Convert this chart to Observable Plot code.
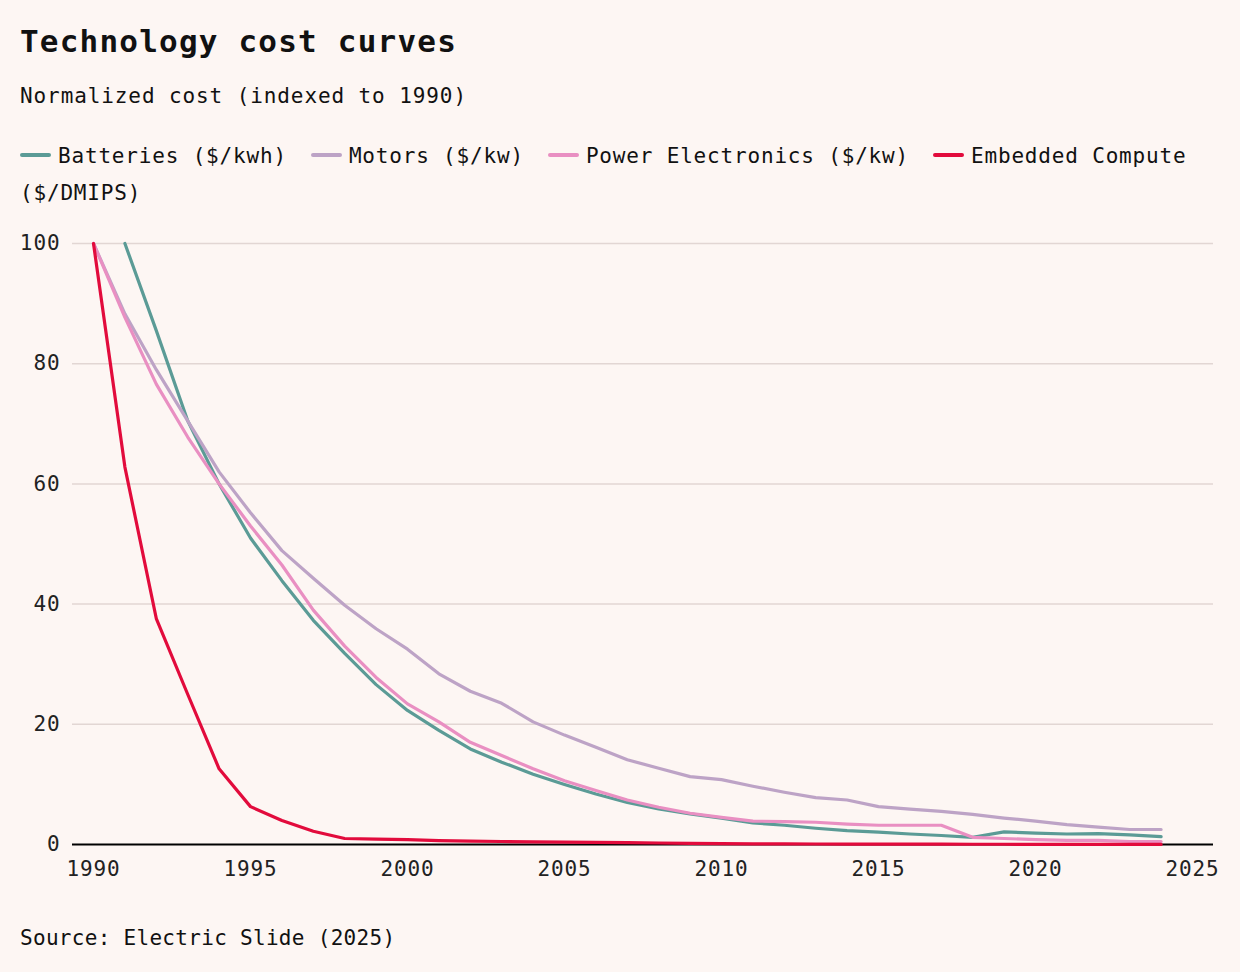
<!DOCTYPE html>
<html>
<head>
<meta charset="utf-8">
<script src="https://cdn.jsdelivr.net/npm/d3@7"></script>
<script src="https://cdn.jsdelivr.net/npm/@observablehq/plot@0.6"></script>
<style>
  html, body { margin: 0; padding: 0; background: #fdf6f3; }
  body { width: 1240px; height: 972px; overflow: hidden; font-family: "DejaVu Sans Mono", monospace; color: #111; }
  #title { position: absolute; left: 20px; top: 22px; font-size: 31px; font-weight: bold; letter-spacing: 1.2px; line-height: 38px; margin: 0; }
  #subtitle { position: absolute; left: 20px; top: 82px; font-size: 21px; letter-spacing: 0.9px; line-height: 28px; }
  #legend { position: absolute; left: 20px; top: 138px; width: 1200px; font-size: 21px; letter-spacing: 0.82px; line-height: 37px; }
  .sw { display: inline-block; width: 31px; height: 4px; border-radius: 2px; vertical-align: middle; margin-right: 7px; position: relative; top: -2px; }
  .w { display: inline-block; margin-right: 13.46px; }
  .w.last { margin-right: 24px; }
  #chart { position: absolute; left: 0; top: 220px; }
  #source { position: absolute; left: 20px; top: 924px; font-size: 21px; letter-spacing: 0.3px; line-height: 28px; }
</style>
</head>
<body>
<div id="title">Technology cost curves</div>
<div id="subtitle">Normalized cost (indexed to 1990)</div>
<div id="legend"></div>
<div id="chart"></div>
<div id="source">Source: Electric Slide (2025)</div>
<script>
const years = d3.range(1990, 2025);
const seriesNames = ["Batteries ($/kwh)", "Motors ($/kw)", "Power Electronics ($/kw)", "Embedded Compute ($/DMIPS)"];
const seriesColors = ["#5b9b96", "#bda3c6", "#e98fc2", "#e20b3c"];
const batteries = [null,100,85.5,70.5,60,51,43.9,37.3,31.8,26.6,22.3,19,15.9,13.7,11.7,10,8.4,7,5.9,5.1,4.4,3.6,3.2,2.7,2.3,2.05,1.75,1.5,1.2,2.1,1.9,1.75,1.8,1.6,1.3];
const motors = [100,88.3,79,70.5,62,55.2,48.9,44.3,39.8,35.9,32.5,28.4,25.5,23.5,20.4,18.2,16.2,14.1,12.7,11.3,10.8,9.7,8.7,7.8,7.4,6.3,5.9,5.5,5.0,4.4,3.9,3.3,2.9,2.5,2.5];
const power = [100,87.7,76.6,67.8,60,53,46.5,39,33,27.8,23.4,20.4,17,14.8,12.6,10.6,9.0,7.4,6.2,5.2,4.5,3.9,3.8,3.7,3.4,3.2,3.2,3.2,1.2,1.0,0.8,0.7,0.7,0.5,0.5];
const compute = [100,62.8,37.6,25,12.6,6.3,4.0,2.2,1.0,0.9,0.8,0.65,0.55,0.5,0.45,0.4,0.35,0.3,0.25,0.2,0.15,0.12,0.1,0.08,0.07,0.06,0.05,0.05,0.04,0.04,0.03,0.03,0.03,0.02,0.02];
const yTicks = [0, 20, 40, 60, 80, 100];
const xTicks = [1990, 1995, 2000, 2005, 2010, 2015, 2020, 2025];

const allSeries = [batteries, motors, power, compute];
const rows = [];
allSeries.forEach((vals, si) => {
  vals.forEach((v, i) => { if (v != null) rows.push({year: years[i], value: v, series: seriesNames[si]}); });
});

// legend: words as separate inline blocks so a label can wrap without one huge box
const legend = document.getElementById("legend");
seriesNames.forEach((n, i) => {
  const sw = document.createElement("span");
  sw.className = "sw";
  sw.style.background = seriesColors[i];
  legend.appendChild(sw);
  const words = n.split(" ");
  words.forEach((wd, j) => {
    const s = document.createElement("span");
    s.className = "w" + (j === words.length - 1 ? " last" : "");
    s.textContent = wd;
    legend.appendChild(s);
  });
});

const chart = Plot.plot({
  width: 1240,
  height: 674,
  marginLeft: 72,
  marginRight: 27,
  marginTop: 23,
  marginBottom: 50,
  insetLeft: 21,
  insetRight: 21,
  style: { background: "transparent", fontFamily: "DejaVu Sans Mono, monospace", fontSize: "21px", color: "#222", letterSpacing: "0.9px" },
  x: { domain: [1990, 2025], ticks: xTicks, tickFormat: d => String(d), tickSize: 0, tickPadding: 17, label: null },
  y: { domain: [0, 100], ticks: yTicks, tickSize: 0, tickPadding: 12, label: null },
  color: { domain: seriesNames, range: seriesColors },
  marks: [
    Plot.ruleY(yTicks.filter(d => d > 0), { stroke: "#e2d6d3", strokeWidth: 1.5 }),
    Plot.ruleY([0], { stroke: "#000", strokeWidth: 2 }),
    Plot.line(rows, { x: "year", y: "value", z: "series", stroke: "series", strokeWidth: 3.2, strokeLinejoin: "round" })
  ]
});
document.getElementById("chart").appendChild(chart);
</script>
</body>
</html>
